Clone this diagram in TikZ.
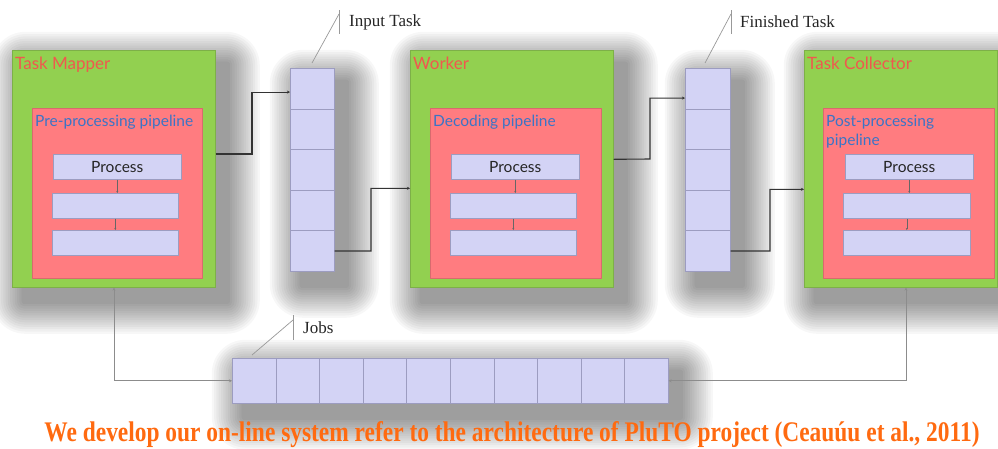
\documentclass[tikz,border=0pt]{standalone}
\usepackage{fontspec}
\setmainfont{Liberation Serif}
\newfontfamily\gill{Lato}
\usetikzlibrary{arrows.meta,calc}
\pgfdeclarelayer{background}
\pgfsetlayers{background,main}
\definecolor{boxgreen}{HTML}{92D050}
\definecolor{greenedge}{HTML}{7DB048}
\definecolor{boxred}{HTML}{FF7C80}
\definecolor{rededge}{HTML}{D86A6E}
\definecolor{lav}{HTML}{D3D3F5}
\definecolor{lavedge}{HTML}{9C9CC0}
\definecolor{titlered}{HTML}{F0584E}
\definecolor{pipeblue}{HTML}{3B74C6}
\definecolor{capor}{HTML}{FF6A10}
\newcommand\mkshadow[1]{%
  \foreach \k in {1,...,14}{%
    \fill[black, opacity=0.03, rounded corners=\k*2.4pt]
      ($(#1.north west)+({12-\k*2.3},{14-\k*2.3})$) rectangle ($(#1.south east)+({12+\k*2.3},{14+\k*2.3})$);
  }}
\begin{document}
\begin{tikzpicture}[x=1pt,y=-1pt,
  outer/.style={draw=greenedge, fill=boxgreen, line width=0.6pt, anchor=north west, inner sep=0pt},
  pipe/.style={draw=rededge, fill=boxred, line width=0.6pt, anchor=north west, inner sep=0pt, minimum height=170pt},
  proc/.style={draw=lavedge, fill=lav, line width=0.6pt, anchor=north west, inner sep=0pt, minimum height=25pt, font=\gill\fontsize{15.5}{15.5}\selectfont, text=black!85},
  qbg/.style={draw=lavedge, fill=lav, line width=0.6pt, anchor=north west, inner sep=0pt},
  cell/.style={draw=lavedge, fill=lav, line width=0.6pt, anchor=north west, inner sep=0pt},
  ttl/.style={anchor=base west, inner sep=0pt, font=\gill\fontsize{17}{17}\selectfont, text=titlered},
  ptl/.style={anchor=base west, inner sep=0pt, font=\gill\fontsize{15.5}{19}\selectfont, text=pipeblue, align=left},
  lbl/.style={anchor=west, inner sep=0pt, font=\fontsize{17}{17}\selectfont, text=black!85},
  conn/.style={draw=black!80, line width=1.1pt, -{Stealth[length=3pt,width=3pt]}},
  bconn/.style={draw=black!45, line width=0.8pt, {Stealth[length=3pt,width=3pt]}-{Stealth[length=3pt,width=3pt]}},
  pconn/.style={draw=black!60, line width=0.5pt, -{Stealth[length=2pt,width=2pt]}},
  lead/.style={draw=black!40, line width=0.7pt}
]
\useasboundingbox (0,0) rectangle (998,448);

% ---------- Task Mapper ----------
\node[outer, minimum width=203pt, minimum height=237pt] (tm) at (12,50) {};
\node[ttl] (tmt) at (15,69) {Task Mapper};
\node[pipe, minimum width=170pt] (tmr) at (32,108) {};
\node[ptl] (tmpt) at (35,126) {Pre-processing pipeline};
\node[proc, minimum width=128pt] (tp1) at (53,154) {Process};
\node[proc, minimum width=126pt] (tp2) at (52,193) {};
\node[proc, minimum width=126pt] (tp3) at (52,230) {};

% ---------- Input queue ----------
\node[qbg, minimum width=44pt, minimum height=203pt] (q1) at (290,68) {};
\foreach \i in {1,...,5}{
  \node[cell, minimum width=44pt, minimum height=40.6pt] (q1c\i) at (290,{68+40.6*(\i-1)}) {};
}

% ---------- Worker ----------
\node[outer, minimum width=203pt, minimum height=237pt] (wk) at (410,50) {};
\node[ttl] (wkt) at (413,69) {Worker};
\node[pipe, minimum width=171pt] (wkr) at (430,108) {};
\node[ptl] (wkpt) at (433,126) {Decoding pipeline};
\node[proc, minimum width=128pt] (wp1) at (451,154) {Process};
\node[proc, minimum width=126pt] (wp2) at (450,193) {};
\node[proc, minimum width=126pt] (wp3) at (450,230) {};

% ---------- Finished queue ----------
\node[qbg, minimum width=45pt, minimum height=203pt] (q2) at (685,68) {};
\foreach \i in {1,...,5}{
  \node[cell, minimum width=45pt, minimum height=40.6pt] (q2c\i) at (685,{68+40.6*(\i-1)}) {};
}

% ---------- Task Collector ----------
\node[outer, minimum width=193pt, minimum height=237pt] (tc) at (804,50) {};
\node[ttl] (tct) at (807,69) {Task Collector};
\node[pipe, minimum width=171pt] (tcr) at (823,108) {};
\node[ptl] (tcpt) at (826,145) {Post-processing\\pipeline};
\node[proc, minimum width=128pt] (cp1) at (845,154) {Process};
\node[proc, minimum width=127pt] (cp2) at (843,193) {};
\node[proc, minimum width=127pt] (cp3) at (843,230) {};

% ---------- Jobs queue ----------
\node[qbg, minimum width=436pt, minimum height=45pt] (jq) at (232,358) {};
\foreach \i in {1,...,10}{
  \node[cell, minimum width=43.6pt, minimum height=45pt] (j\i) at ({232+43.6*(\i-1)},358) {};
}

% ---------- shadows + page ----------
\begin{pgfonlayer}{background}
  \fill[white] (0,0) rectangle (998,448);
  \mkshadow{tm}\mkshadow{q1}\mkshadow{wk}\mkshadow{q2}\mkshadow{tc}\mkshadow{jq}
\end{pgfonlayer}

% ---------- pipeline inner arrows ----------
\foreach \a/\b in {tp1/tp2,tp2/tp3,wp1/wp2,wp2/wp3,cp1/cp2,cp2/cp3}{
  \draw[pconn] (\a.south) -- (\a.south |- \b.north);
}

% ---------- connectors ----------
\draw[conn] (tm.east |- tp1.north) -- (252,154) |- ([yshift=-3.5pt]q1c1.west);
\draw[conn] (q1c5.east) -- (371,251) |- ([yshift=-19.5pt]wk.west);
\draw[conn] ([yshift=7.5pt]wk.east |- wp1.center) -- (650,159) |- ([yshift=-9.5pt]q2c1.west);
\draw[conn] (q2c5.east) -- (770,251) |- ([yshift=-20.5pt]tc.west);
\draw[bconn] (tm.south -| 114,0) |- (jq.west);
\draw[bconn] (tc.south -| 906,0) |- (jq.east);

% ---------- labels ----------
\coordinate (it1) at (312,63);
\coordinate (it2) at (339,14);
\draw[lead] (it1) -- (it2);
\draw[lead] (339,10) -- (339,34);
\node[lbl] (itl) at (349,22) {Input Task};

\coordinate (ft1) at (705,63);
\coordinate (ft2) at (731,14);
\draw[lead] (ft1) -- (ft2);
\draw[lead] (731,10) -- (731,34);
\node[lbl] (ftl) at (740,22) {Finished Task};

\coordinate (jb1) at (252,355);
\coordinate (jb2) at (293,320);
\draw[lead] (jb1) -- (jb2);
\draw[lead] (293,315) -- (293,340);
\node[lbl] (jbl) at (303,328) {Jobs};

% ---------- caption ----------
\node[anchor=base, inner sep=0pt, text=capor] (cap) at (512,441)
  {\resizebox{935pt}{20pt}{\bfseries\fontsize{28}{28}\selectfont We develop our on-line system refer to the architecture of PluTO project (Ceauúu et al., 2011)}};
\end{tikzpicture}
\end{document}
